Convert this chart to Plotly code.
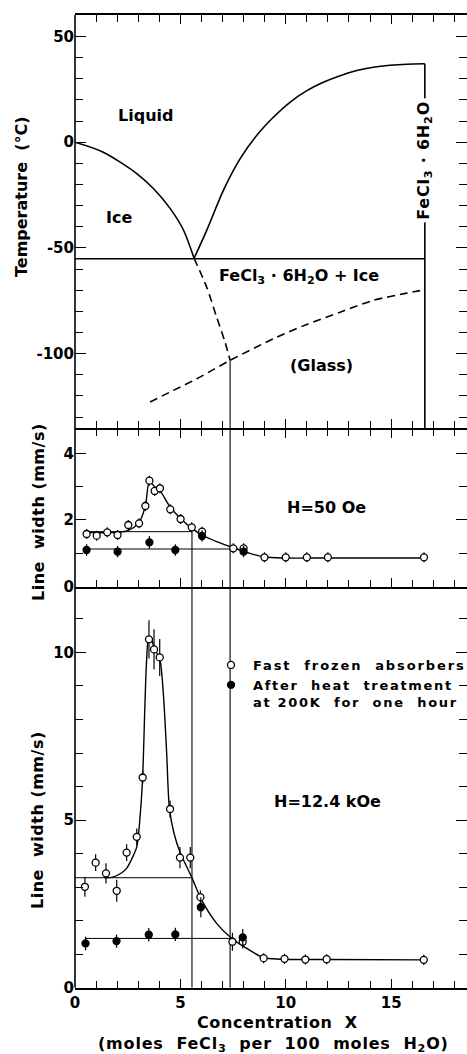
import plotly.graph_objects as go

# ---------------- data: phase diagram (top panel) ----------------
ice_liquidus_x = [0.0, 1.34, 2.93, 3.72, 4.51, 5.14, 5.65]
ice_liquidus_y = [0.0, -4.7, -14.8, -21.9, -31.3, -41.4, -54.9]
hex_liquidus_x = [5.65, 6.25, 7.04, 7.83, 8.62, 9.41, 10.2, 11.0, 11.78, 12.58,
                  13.37, 14.16, 14.95, 15.74, 16.6]
hex_liquidus_y = [-54.9, -41.7, -22.8, -7.9, 3.2, 11.8, 18.9, 24.4, 28.4, 31.5,
                  33.9, 35.5, 36.4, 36.9, 37.1]
solidus_x = [0.0, 16.6]
solidus_y = [-55.1, -55.1]
ice_metastable_x = [5.65, 6.25, 6.72, 7.12, 7.36]
ice_metastable_y = [-54.9, -68.6, -82.7, -94.6, -103.2]
glass_x = [3.56, 4.67, 5.78, 7.36, 9.41, 11.0, 12.58, 14.16, 15.74, 16.6]
glass_y = [-122.9, -117.4, -111.9, -103.2, -93.0, -86.2, -80.4, -74.8, -71.4, -69.8]
hexahydrate_x = [16.6, 16.6]
hexahydrate_y = [37.1, -140.0]

# reference concentrations (vertical guide lines)
x_guide_a = 5.55
x_guide_b = 7.36
glass_guide_top = -103.2

# ---------------- data: line width at H = 50 Oe (middle panel) ----------------
mid_open_x = [0.55, 1.03, 1.53, 2.02, 2.53, 3.04, 3.34, 3.53, 3.78, 4.03, 4.52,
              5.01, 5.54, 6.03, 7.51, 8.00, 8.99, 10.0, 11.0, 12.0, 16.56]
mid_open_y = [1.58, 1.53, 1.63, 1.55, 1.85, 1.90, 2.42, 3.18, 2.87, 2.95, 2.32,
              2.03, 1.78, 1.65, 1.15, 1.15, 0.88, 0.88, 0.88, 0.88, 0.88]
mid_open_err = [0.15] * 21
mid_filled_x = [0.55, 2.02, 3.53, 4.76, 6.03, 8.00]
mid_filled_y = [1.10, 1.05, 1.33, 1.10, 1.52, 1.05]
mid_filled_err = [0.17, 0.17, 0.19, 0.17, 0.17, 0.17]
mid_fit_x = [0.55, 1.0, 1.5, 2.0, 2.5, 3.04, 3.34, 3.53, 3.8, 4.03, 4.5, 5.0,
             5.54, 6.03, 6.72, 7.51, 8.3, 9.0, 9.9, 12.0, 16.56]
mid_fit_y = [1.62, 1.62, 1.62, 1.63, 1.68, 1.93, 2.42, 3.15, 2.98, 2.88, 2.40,
             2.05, 1.75, 1.55, 1.35, 1.17, 1.00, 0.89, 0.86, 0.86, 0.86]
mid_level_fast_x = [0.5, x_guide_a]
mid_level_fast_y = [1.65, 1.65]
mid_level_heat_x = [0.5, x_guide_b]
mid_level_heat_y = [1.13, 1.13]

# ---------------- data: line width at H = 12.4 kOe (bottom panel) ----------------
bot_open_x = [0.47, 0.98, 1.47, 1.98, 2.45, 2.93, 3.21, 3.51, 3.75, 4.02, 4.51,
              4.98, 5.47, 5.95, 7.47, 7.96, 8.95, 9.94, 10.93, 11.94, 16.55]
bot_open_y = [3.01, 3.73, 3.41, 2.89, 4.03, 4.50, 6.27, 10.39, 10.09, 9.85, 5.33,
              3.88, 3.88, 2.70, 1.37, 1.37, 0.88, 0.86, 0.84, 0.85, 0.83]
bot_open_err = [0.30, 0.25, 0.30, 0.33, 0.25, 0.25, 0.20, 0.57, 0.60, 0.55, 0.25,
                0.32, 0.32, 0.20, 0.27, 0.20, 0.15, 0.15, 0.15, 0.15, 0.15]
bot_filled_x = [0.50, 1.97, 3.50, 4.76, 5.97, 7.96]
bot_filled_y = [1.32, 1.39, 1.58, 1.59, 2.40, 1.50]
bot_filled_err = [0.20, 0.20, 0.20, 0.20, 0.30, 0.25]
bot_fit_x = [1.4, 1.8, 2.2, 2.45, 2.7, 2.93, 3.1, 3.21, 3.32, 3.40, 3.50, 3.62,
             3.75, 4.03, 4.19, 4.35, 4.48, 4.7, 4.98, 5.54, 6.01, 6.72, 7.4,
             8.15, 8.94, 9.73, 12.0, 16.56]
bot_fit_y = [3.28, 3.30, 3.42, 3.56, 3.85, 4.20, 5.20, 6.29, 8.48, 9.80, 10.45,
             10.40, 10.15, 9.77, 8.78, 6.99, 5.35, 4.60, 4.05, 3.29, 2.61, 1.92,
             1.49, 1.17, 0.90, 0.85, 0.84, 0.83]
bot_level_fast_x = [0.0, x_guide_a]
bot_level_fast_y = [3.28, 3.28]
bot_level_heat_x = [0.5, x_guide_b]
bot_level_heat_y = [1.47, 1.47]

# ---------------- layout geometry ----------------
W, H = 467, 1054
FONT = "DejaVu Sans"
X_LEFT = 75 / W
X_RANGE = [0, 18.6]
AX_LW = 1.6


def fy(px):
    return 1 - px / H


TOP_DOM = [fy(428), fy(15)]
MID_DOM = [fy(586.7), fy(428 + AX_LW)]
BOT_DOM = [fy(987.7), fy(586.7)]


def sp(text, ls):
    return f'<span style="letter-spacing:{ls}px">{text}</span>'


fig = go.Figure()


def line(x, y, xa, ya, width=1.6, dash=None, shape="linear"):
    fig.add_trace(go.Scatter(x=x, y=y, xaxis=xa, yaxis=ya, mode="lines",
                             line=dict(color="black", width=width, dash=dash, shape=shape,
                                       smoothing=0.8),
                             showlegend=False, hoverinfo="skip"))


# top panel
line(ice_liquidus_x, ice_liquidus_y, "x", "y", shape="spline")
line(hex_liquidus_x, hex_liquidus_y, "x", "y", shape="spline")
line(solidus_x, solidus_y, "x", "y")
line(ice_metastable_x, ice_metastable_y, "x", "y", dash="8px,5px", shape="spline")
line(glass_x, glass_y, "x", "y", dash="8px,5px", shape="spline")
line(hexahydrate_x, hexahydrate_y, "x", "y")
line([x_guide_b, x_guide_b], [glass_guide_top, -140], "x", "y", width=1.1)

# middle panel guides
line([x_guide_a, x_guide_a], [mid_level_fast_y[0], -1], "x2", "y2", width=1.1)
line([x_guide_b, x_guide_b], [-1, 6], "x2", "y2", width=1.1)
line(mid_level_fast_x, mid_level_fast_y, "x2", "y2", width=1.0)
line(mid_level_heat_x, mid_level_heat_y, "x2", "y2", width=1.0)
line(mid_fit_x, mid_fit_y, "x2", "y2", width=1.4, shape="spline")

# bottom panel guides
line([x_guide_a, x_guide_a], [0, 13], "x3", "y3", width=1.1)
line([x_guide_b, x_guide_b], [0, 13], "x3", "y3", width=1.1)
line(bot_level_fast_x, bot_level_fast_y, "x3", "y3", width=1.0)
line(bot_level_heat_x, bot_level_heat_y, "x3", "y3", width=1.0)
line(bot_fit_x, bot_fit_y, "x3", "y3", width=1.4, shape="spline")


def points(x, y, err, xa, ya, filled, name=None, legend=False):
    fig.add_trace(go.Scatter(
        x=x, y=y, xaxis=xa, yaxis=ya, mode="markers", name=name,
        showlegend=legend,
        error_y=dict(type="data", array=err, visible=True, color="black",
                     thickness=1.2, width=0),
        marker=dict(symbol="circle", size=7,
                    color="black" if filled else "white",
                    line=dict(color="black", width=1.3)),
        hoverinfo="skip"))


points(mid_open_x, mid_open_y, mid_open_err, "x2", "y2", False)
points(mid_filled_x, mid_filled_y, mid_filled_err, "x2", "y2", True)
points(bot_open_x, bot_open_y, bot_open_err, "x3", "y3", False,
       name=sp("Fast  frozen  absorbers", 1.9), legend=True)
points(bot_filled_x, bot_filled_y, bot_filled_err, "x3", "y3", True,
       name=sp("After  heat  treatment", 1.7) + "<br>" + sp("at 200K  for  one  hour", 1.7),
       legend=True)

xaxis_common = dict(range=X_RANGE, domain=[X_LEFT, 1], showline=True, linecolor="black",
                    linewidth=AX_LW, ticks="inside", dtick=5, tick0=0, ticklen=9,
                    tickwidth=1.3, tickcolor="black", showgrid=False, zeroline=False,
                    minor=dict(dtick=1, ticks="inside", ticklen=7, tickwidth=1.2,
                               tickcolor="black", showgrid=False),
                    fixedrange=True, automargin=False)
yaxis_common = dict(showline=False, ticks="inside", mirror="ticks", ticklen=11,
                    tickwidth=1.3, tickcolor="black", showgrid=False, zeroline=False,
                    tickfont=dict(size=15, family=FONT, weight="bold", color="black"),
                    fixedrange=True, automargin=False)

fig.update_layout(
    width=W, height=H, autosize=False,
    margin=dict(l=0, r=0, t=0, b=0, pad=0, autoexpand=False),
    paper_bgcolor="white", plot_bgcolor="white",
    font=dict(family=FONT, weight="bold", color="black", size=15),
    xaxis=dict(xaxis_common, anchor="y", mirror="ticks", showticklabels=False),
    xaxis2=dict(xaxis_common, anchor="y2", mirror="ticks", showticklabels=False),
    xaxis3=dict(xaxis_common, anchor="y3", mirror=False, showticklabels=True,
                tickfont=dict(size=15, family=FONT, weight="bold", color="black")),
    yaxis=dict(yaxis_common, anchor="x", domain=TOP_DOM, range=[-135.2, 60.2],
               tickvals=[50, 0, -50, -100], ticktext=["50", "0", "-50", "-100"],
               minor=dict(dtick=10, tick0=0, ticks="inside", ticklen=8, tickwidth=1.2,
                          tickcolor="black", showgrid=False)),
    yaxis2=dict(yaxis_common, anchor="x2", domain=MID_DOM, range=[0, 4.71],
                tickvals=[0, 2, 4], ticktext=["0", "2", "4"],
                minor=dict(dtick=1, tick0=0, ticks="inside", ticklen=8, tickwidth=1.2,
                           tickcolor="black", showgrid=False)),
    yaxis3=dict(yaxis_common, anchor="x3", domain=BOT_DOM, range=[0, 11.96],
                tickvals=[0, 5, 10], ticktext=["0", "5", "10"],
                minor=dict(dtick=1, tick0=0, ticks="inside", ticklen=8, tickwidth=1.2,
                           tickcolor="black", showgrid=False)),
    legend=dict(x=209 / W, y=fy(650), xanchor="left", yanchor="top",
                bgcolor="rgba(0,0,0,0)", valign="top", itemwidth=34,
                font=dict(size=13, family=FONT, weight="bold", color="black")),
    showlegend=True,
)

# left frame line
fig.add_shape(type="line", xref="paper", yref="paper", x0=X_LEFT, x1=X_LEFT,
              y0=BOT_DOM[0], y1=TOP_DOM[1], line=dict(color="black", width=AX_LW))


def ann(text, x, y, xref, yref, size=16, angle=0, **kw):
    fig.add_annotation(text=text, x=x, y=y, xref=xref, yref=yref, showarrow=False,
                       textangle=angle, xanchor="center", yanchor="middle",
                       font=dict(family=FONT, size=size, weight="bold", color="black"),
                       **kw)


# panel texts
ann("Liquid", 3.35, 12.6, "x", "y")
ann("Ice", 2.11, -35.6, "x", "y")
ann("FeCl<sub>3</sub> · 6H<sub>2</sub>O + Ice", 10.63, -63.5, "x", "y")
ann("(Glass)", 11.68, -105.6, "x", "y")
ann(sp("FeCl<sub>3</sub> · 6H<sub>2</sub>O", 0.8), 16.6, -8.4, "x", "y", size=16, angle=-90,
    bgcolor="white", borderpad=2)
ann("H=50 Oe", 11.95, 2.38, "x2", "y2")
ann("H=12.4 kOe", 11.98, 5.55, "x3", "y3")

# axis titles
ann("Temperature  (°C)", 22 / W, fy(197), "paper", "paper", angle=-90)
ann(sp("Line  width (mm/s)", 0.5), 38 / W, fy(512), "paper", "paper", angle=-90)
ann(sp("Line  width (mm/s)", 0.5), 37 / W, fy(820), "paper", "paper", angle=-90)
ann(sp("Concentration  X", 0.6), 277.5 / W, fy(1022.7), "paper", "paper")
ann(sp("(moles  FeCl<sub>3</sub>  per  100  moles  H<sub>2</sub>O)", 0.8), 273 / W, fy(1044),
    "paper", "paper")

fig.write_html(
    "out.html",
    config={"displayModeBar": False, "responsive": False},
    post_script="document.body.style.margin='0';document.body.style.overflow='hidden';",
)
